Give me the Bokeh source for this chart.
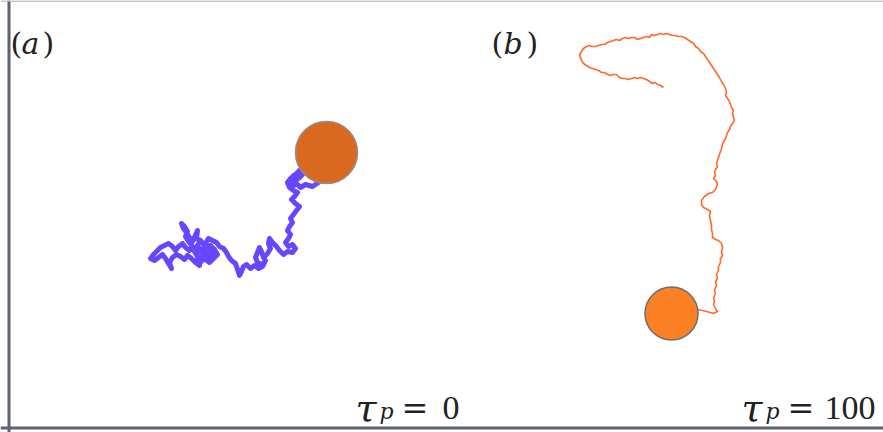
from bokeh.plotting import figure
from bokeh.models import Range1d, Span
from bokeh.core.properties import value
from bokeh.embed import file_html
from bokeh.resources import INLINE

# Trajectory of the passive particle (tau_p = 0), screen-like units
walk_a_x = [318, 312, 305, 300, 296, 292, 289, 292, 296, 299, 302, 298, 294, 290, 287, 289, 293, 297, 294, 291,
            295, 299, 296, 293, 290, 292, 289, 287, 290, 288, 285, 288, 292, 295, 292, 287, 283, 279, 276, 272,
            269, 268, 270, 267, 263, 261, 259, 257, 255, 257, 262, 265, 262, 258, 254, 250, 246, 243, 241, 239,
            237, 235, 231, 228, 226, 223, 219, 216, 212, 208, 205, 209, 213, 210, 206, 203, 200, 197, 194, 198,
            202, 205, 201, 196, 197, 192, 189, 186, 183, 181, 184, 187, 185, 188, 192, 189, 185, 182, 178, 175,
            172, 168, 164, 160, 157, 153, 150, 154, 158, 162, 165, 168, 171, 169, 172, 176, 180, 184, 187, 191,
            195, 199, 196, 201, 205, 209, 213, 217, 214, 210, 206, 203, 200, 197, 193, 196, 200, 204, 208, 212,
            215, 211, 207, 203]
walk_a_y = [182, 186, 184, 187, 183, 186, 181, 176, 173, 170, 174, 178, 180, 178, 182, 187, 190, 192, 196, 199,
            203, 206, 210, 214, 218, 222, 226, 230, 234, 238, 242, 246, 244, 248, 252, 251, 254, 250, 246, 242,
            238, 243, 248, 253, 257, 251, 247, 252, 257, 262, 264, 260, 266, 268, 265, 268, 264, 266, 271, 275,
            269, 263, 260, 256, 252, 248, 246, 242, 240, 238, 243, 247, 252, 256, 253, 258, 262, 256, 251, 247,
            250, 246, 241, 238, 230, 241, 237, 232, 228, 223, 226, 231, 236, 241, 246, 250, 247, 243, 246, 250,
            246, 243, 245, 247, 250, 254, 258, 260, 257, 254, 258, 263, 268, 262, 257, 254, 256, 259, 255, 258,
            262, 265, 260, 256, 259, 262, 258, 254, 249, 245, 249, 244, 240, 245, 249, 253, 250, 254, 258, 256,
            251, 247, 251, 255]

# Trajectory of the persistent particle (tau_p = 100)
walk_b_x = [663, 660, 657, 655, 652, 649, 646, 643, 640, 637, 634, 631, 628, 625, 622, 619, 616, 613, 610, 607,
            604, 601, 598, 595, 592, 589, 586, 583, 581, 580, 579, 581, 583, 586, 589, 592, 595, 598, 601, 604,
            607, 610, 613, 616, 619, 622, 625, 628, 631, 634, 637, 640, 643, 646, 649, 651, 654, 657, 660, 663,
            666, 669, 672, 675, 678, 681, 684, 687, 690, 693, 695, 698, 700, 703, 705, 707, 709, 711, 713, 715,
            717, 719, 721, 723, 725, 726, 725, 727, 729, 730, 731, 733, 732, 733, 734, 732, 730, 729, 727, 726,
            725, 723, 722, 721, 720, 719, 718, 717, 716, 717, 715, 714, 715, 713, 716, 717, 715, 712, 708, 704,
            701, 701, 703, 707, 710, 709, 710, 711, 711, 712, 712, 715, 718, 721, 722, 721, 722, 720, 720, 718,
            718, 716, 717, 715, 716, 714, 715, 713, 714, 713, 715, 717, 713, 710, 706, 702, 697]
walk_b_y = [87, 85, 84, 82, 83, 81, 79, 78, 77, 78, 77, 78, 79, 78, 78, 77, 74, 74, 75, 74,
            72, 72, 70, 69, 68, 67, 65, 63, 60, 57, 54, 51, 48, 46, 45, 46, 46, 45, 44, 44,
            42, 41, 40, 39, 40, 38, 37, 38, 37, 37, 39, 38, 37, 36, 37, 34, 35, 34, 33, 34,
            33, 34, 35, 35, 36, 36, 37, 39, 41, 43, 46, 48, 51, 53, 56, 59, 62, 65, 68, 71,
            74, 77, 81, 84, 88, 92, 95, 98, 101, 104, 107, 110, 113, 117, 120, 123, 126, 129, 132, 135,
            138, 141, 144, 148, 151, 154, 157, 160, 163, 166, 169, 172, 175, 178, 181, 184, 189, 192, 193, 196,
            200, 204, 207, 209, 211, 215, 220, 225, 229, 233, 237, 239, 240, 243, 247, 251, 255, 258, 262, 266,
            270, 274, 278, 281, 285, 289, 293, 297, 301, 304, 308, 311, 313, 312, 311, 310, 309]

# Particle positions and radii
particle_x = [326, 671]
particle_y = [152, 313]
particle_r = [31, 26.5]

W, H = 883, 432
p = figure(width=W, height=H, output_backend="svg", toolbar_location=None,
           x_range=Range1d(0, W), y_range=Range1d(H, 0), min_border=0,
           background_fill_color="white", border_fill_color="white")
p.axis.visible = False
p.grid.visible = False
p.outline_line_color = None

# frame
p.add_layout(Span(location=8.5, dimension="height", line_color="#5c6078", line_width=3))
p.add_layout(Span(location=427.5, dimension="width", line_color="#5c6078", line_width=3))
p.add_layout(Span(location=0.5, dimension="width", line_color="#b4b4c6", line_width=1.5))

# panel (a)
p.line(walk_a_x, walk_a_y, line_color="#6547ff", line_width=5, line_join="round", line_cap="round")
p.circle(particle_x[0], particle_y[0], radius=particle_r[0], fill_color="#d9691f",
         line_color="#9c8a80", line_width=1.5)

# panel (b)
p.line(walk_b_x, walk_b_y, line_color="#ff6a2c", line_width=1.6, line_join="round")
p.circle(particle_x[1], particle_y[1], radius=particle_r[1], fill_color="#fb8124",
         line_color="#6e6e6e", line_width=1.5)

dejavu = value("DejaVu Serif")
times = value("Liberation Serif")
ink = "#222222"

def txt(x, y, s, size, style="normal", font=dejavu):
    p.text([x], [y], text=[s], text_font=font, text_font_size=value(f"{size}px"),
           text_font_style=style, text_color=ink, text_baseline="alphabetic", text_align="left")

# panel letters
txt(10, 43, "(", 30)
txt(21, 43, "a", 30, "italic")
txt(42, 43, ")", 30)
txt(491, 43, "(", 30)
txt(503, 43, "b", 30, "italic")
txt(526, 43, ")", 30)

# persistence times
txt(355, 407, "τ", 38, "italic")
txt(379, 411, "p", 22, "italic")
txt(401, 407, "=", 32)
txt(442, 407, "0", 34, font=times)

txt(741, 407, "τ", 38, "italic")
txt(765, 411, "p", 22, "italic")
txt(787, 407, "=", 32)
txt(824, 407, "100", 34, font=times)

open("out.html", "w").write(file_html(p, INLINE))
